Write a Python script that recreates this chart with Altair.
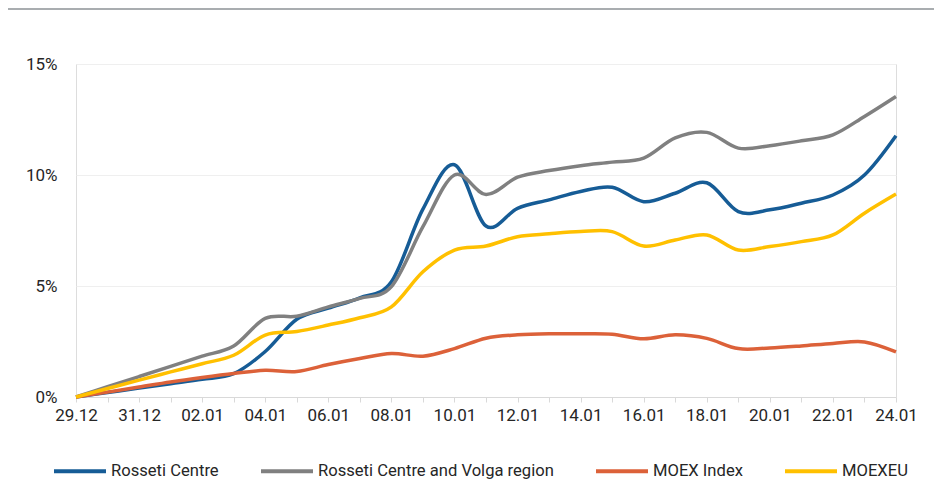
import altair as alt
import pandas as pd

dates = ["29.12", "30.12", "31.12", "01.01", "02.01", "03.01", "04.01", "05.01", "06.01",
         "07.01", "08.01", "09.01", "10.01", "11.01", "12.01", "13.01", "14.01", "15.01",
         "16.01", "17.01", "18.01", "19.01", "20.01", "21.01", "22.01", "23.01", "24.01"]
shown_labels = ["29.12", "31.12", "02.01", "04.01", "06.01", "08.01", "10.01", "12.01",
                "14.01", "16.01", "18.01", "20.01", "22.01", "24.01"]

series_names = ["Rosseti Centre", "Rosseti Centre and Volga region", "MOEX Index", "MOEXEU"]
series_colors = ["#165C96", "#808080", "#DC6139", "#FFC000"]

rosseti_centre = [0, 0.2, 0.4, 0.6, 0.8, 1.05, 2.05, 3.5, 4.0, 4.47, 5.19, 8.46, 10.46, 7.7,
                  8.5, 8.88, 9.26, 9.45, 8.8, 9.18, 9.65, 8.35, 8.43, 8.73, 9.1, 10.0, 11.77]
rosseti_volga = [0, 0.46, 0.92, 1.38, 1.84, 2.3, 3.54, 3.64, 4.06, 4.44, 4.97, 7.67, 10.0, 9.12,
                 9.9, 10.2, 10.42, 10.58, 10.76, 11.67, 11.92, 11.21, 11.32, 11.54, 11.81, 12.64, 13.54]
moex_index = [0, 0.22, 0.45, 0.68, 0.88, 1.06, 1.2, 1.15, 1.46, 1.73, 1.96, 1.84, 2.18, 2.65,
              2.8, 2.85, 2.85, 2.83, 2.62, 2.8, 2.64, 2.18, 2.21, 2.3, 2.41, 2.48, 2.03]
moexeu = [0, 0.38, 0.76, 1.13, 1.5, 1.88, 2.79, 2.95, 3.24, 3.57, 4.06, 5.64, 6.62, 6.8,
          7.22, 7.35, 7.45, 7.45, 6.8, 7.07, 7.3, 6.62, 6.78, 7.0, 7.3, 8.28, 9.14]

y_ticks = [0, 5, 10, 15]

rows = []
for name, vals in zip(series_names, [rosseti_centre, rosseti_volga, moex_index, moexeu]):
    for d, v in zip(dates, vals):
        rows.append({"date": d, "series": name, "value": v})
df = pd.DataFrame(rows)

FONT = "Roboto"
label_list = "[" + ",".join("'" + s + "'" for s in shown_labels) + "]"

lines = alt.Chart(df).mark_line(
    strokeWidth=3.5, interpolate="cardinal", tension=0.0
).encode(
    x=alt.X("date:O", sort=dates,
            scale=alt.Scale(type="point", padding=0),
            axis=alt.Axis(title=None, labelAngle=0,
                          labelExpr="indexof(" + label_list + ", datum.value) >= 0 ? datum.value : ''",
                          domainColor="#D9D9D9", tickColor="#D9D9D9", tickSize=5,
                          labelPadding=5, labelFontSize=17, labelFont=FONT,
                          labelColor="#262626", grid=False)),
    y=alt.Y("value:Q", scale=alt.Scale(domain=[0, 15], nice=False),
            axis=alt.Axis(title=None, values=y_ticks, labelExpr="datum.value + '%'",
                          domain=False, ticks=False, labelPadding=19,
                          labelFontSize=17, labelFont=FONT, labelColor="#262626",
                          gridColor="#EFEFEF", gridWidth=1)),
    color=alt.Color("series:N", sort=series_names,
                    scale=alt.Scale(domain=series_names, range=series_colors),
                    legend=alt.Legend(title=None, orient="none", direction="horizontal",
                                      legendX=-24, legendY=379,
                                      symbolType="stroke", symbolSize=2704,
                                      symbolStrokeWidth=4, labelOffset=3,
                                      columnPadding=34, labelFontSize=16.6,
                                      labelFont=FONT, labelColor="#262626",
                                      labelLimit=400))
)

top_rule = alt.Chart(pd.DataFrame({"a": [0]})).mark_rule(
    color="#A9ADB0", strokeWidth=2
).encode(x=alt.value(-68), x2=alt.value(858), y=alt.value(-55))

chart = alt.layer(lines, top_rule).properties(
    width=820, height=333,
    autosize=alt.AutoSizeParams(type="none"),
    padding={"left": 68, "top": 56, "right": 38, "bottom": 100}
).configure_view(stroke=None).configure(background="white")

chart.save("out.html", embed_options={"renderer": "svg", "actions": False})
